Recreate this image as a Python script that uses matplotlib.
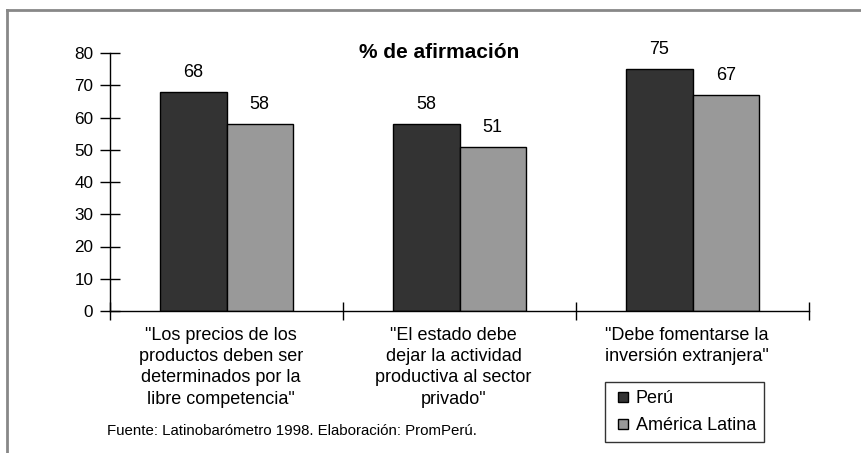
import numpy as np
import matplotlib
matplotlib.use("Agg")
from matplotlib import pyplot as plt
from matplotlib.lines import Line2D

plt.rcParams['font.family'] = ['Liberation Sans', 'DejaVu Sans']

categorias = ['"Los precios de los\nproductos deben ser\ndeterminados por la\nlibre competencia"',
              '"El estado debe\ndejar la actividad\nproductiva al sector\nprivado"',
              '"Debe fomentarse la\ninversión extranjera"']
peru = [68, 58, 75]
america_latina = [58, 51, 67]
series = ['Perú', 'América Latina']
yticks = [0, 10, 20, 30, 40, 50, 60, 70, 80]

c_peru = '#333333'
c_al = '#999999'
fs = 13

fig = plt.figure(figsize=(8.61, 4.53), dpi=100)
ax = fig.add_axes([110 / 861, 1 - 311 / 453, (809 - 110) / 861, (311 - 53) / 453])

x = np.arange(len(categorias))
w = 0.285
b1 = ax.bar(x - w / 2, peru, w, color=c_peru, edgecolor='black', linewidth=1)
b2 = ax.bar(x + w / 2, america_latina, w, color=c_al, edgecolor='black', linewidth=1)

for rect, v in zip(list(b1) + list(b2), peru + america_latina):
    ax.text(rect.get_x() + rect.get_width() / 2, v + 6.0, str(v),
            ha='center', va='center', fontsize=fs)

ax.set_xlim(-0.5, len(categorias) - 0.5)
ax.set_ylim(0, 80)
ax.set_yticks(yticks)
ax.set_yticklabels([str(t) for t in yticks], fontsize=12.3)
ax.tick_params(axis='y', direction='inout', length=14, width=1, pad=5)

ax.set_xticks(np.arange(len(categorias) + 1) - 0.5)
ax.set_xticklabels([])
ax.tick_params(axis='x', direction='inout', length=13, width=1)
for i, lab in enumerate(categorias):
    ax.text(i - 0.025, -4.9, lab, ha='center', va='top', fontsize=fs,
            linespacing=1.33)

for s in ['top', 'right']:
    ax.spines[s].set_visible(False)
ax.spines['left'].set_linewidth(1)
ax.spines['bottom'].set_linewidth(1)

fig.text(439 / 861, 1 - 52 / 453, '% de afirmación', ha='center', va='center',
         fontsize=15, fontweight='bold')

fig.text(107 / 861, 1 - 431 / 453,
         'Fuente: Latinobarómetro 1998. Elaboración: PromPerú.',
         ha='left', va='center', fontsize=10.8)

handles = [Line2D([], [], linestyle='none', marker='s', markersize=7.5,
                  markerfacecolor=c, markeredgecolor='black', markeredgewidth=1)
           for c in (c_peru, c_al)]
leg = fig.legend(handles, series, loc='lower left',
                 bbox_to_anchor=(605 / 861, 1 - 442 / 453),
                 fontsize=fs, frameon=True, fancybox=False,
                 handlelength=1.1, handletextpad=0.15,
                 borderpad=0.45, labelspacing=0.55, borderaxespad=0)
leg.get_frame().set_edgecolor('black')
leg.get_frame().set_linewidth(1)

# marco gris del gráfico original
fig.add_artist(Line2D([7 / 861, 1.0], [1 - 10 / 453, 1 - 10 / 453],
                      color='#888888', linewidth=2))
fig.add_artist(Line2D([7 / 861, 7 / 861], [0, 1 - 10 / 453],
                      color='#888888', linewidth=2))

fig.savefig('out.png', dpi=100)
